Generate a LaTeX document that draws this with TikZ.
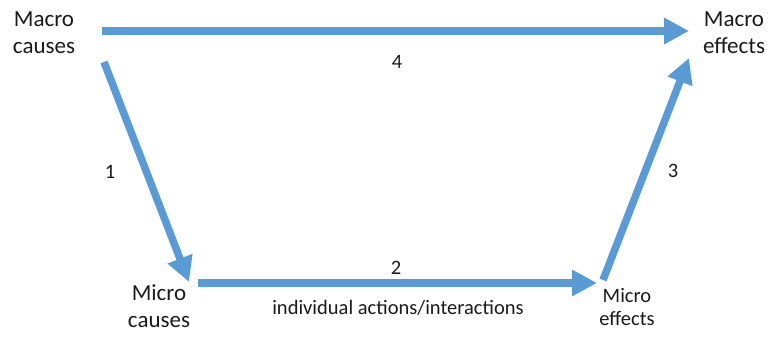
\documentclass[tikz,border=0pt]{standalone}
\usepackage{fontspec}
\setmainfont{Carlito}
\usetikzlibrary{arrows.meta}
\definecolor{flowblue}{HTML}{5B9BD5}
\definecolor{inktext}{HTML}{1A1A1A}
\tikzset{
  flow/.style={draw=flowblue, line width=7.5pt,
    -{Triangle[length=25pt,width=25pt]}},
  bigterm/.style={align=center, text=inktext, inner sep=0pt,
    font=\fontsize{23}{26.5}\selectfont, anchor=base},
  smallterm/.style={align=center, text=inktext, inner sep=0pt,
    font=\fontsize{20.5}{23}\selectfont, anchor=base},
  steplabel/.style={text=inktext, inner sep=0pt,
    font=\fontsize{20.5}{24}\selectfont, anchor=base},
}
\begin{document}
\begin{tikzpicture}[x=1pt, y=-1pt]
  \useasboundingbox (0,0) rectangle (773,338);

  % terms (anchored at the baseline of the last line)
  \node[bigterm] (macroC) at (44,53) {Macro\\causes};
  \node[bigterm] (macroE) at (734,53) {Macro\\effects};
  \node[bigterm] (microC) at (159,327) {Micro\\causes};
  \node[smallterm] (microE) at (627,325) {Micro\\effects};

  % arrow end points
  \coordinate (a4s) at (102,31);
  \coordinate (a4e) at (689,31);
  \coordinate (a1s) at (104,62);
  \coordinate (a1e) at (189,282);
  \coordinate (a2s) at (198,283);
  \coordinate (a2e) at (597,283);
  \coordinate (a3s) at (603,280);
  \coordinate (a3e) at (689,58);

  % causal links
  \draw[flow] (a4s) -- (a4e);
  \draw[flow] (a1s) -- (a1e);
  \draw[flow] (a2s) -- (a2e);
  \draw[flow] (a3s) -- (a3e);

  % link labels
  \node[steplabel] (n4) at (397,68) {4};
  \node[steplabel] (n1) at (110,178) {1};
  \node[steplabel] (n3) at (673,177) {3};
  \node[steplabel] (n2) at (396,274) {2};
  \node[steplabel] (act) at (398,314) {individual actions/interactions};
\end{tikzpicture}
\end{document}
